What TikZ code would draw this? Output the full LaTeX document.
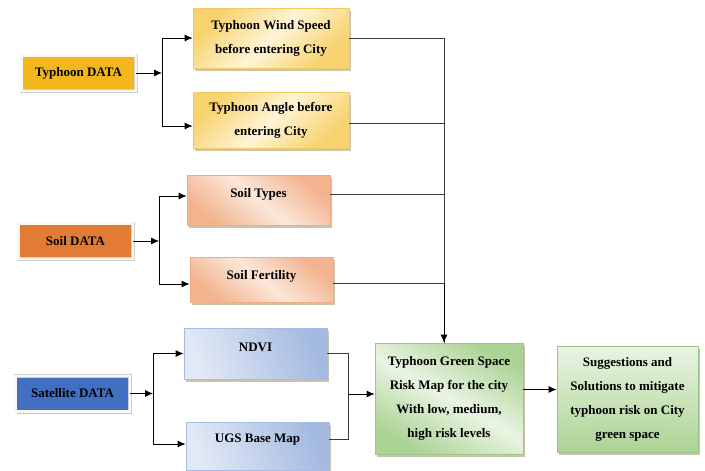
\documentclass[tikz,border=0pt]{standalone}
\usepackage{fontspec}
\setmainfont{Liberation Serif}
\usetikzlibrary{shadows,calc,arrows.meta}
\definecolor{tfill}{HTML}{F2B71F}
\definecolor{sfill}{HTML}{E27B33}
\definecolor{bfill}{HTML}{4170C2}
\definecolor{framegray}{HTML}{CFCFCF}
\definecolor{framefill}{HTML}{FAF8F0}
\definecolor{shadowc}{HTML}{BDB59A}
\definecolor{ybord}{HTML}{F2CA62}
\definecolor{ydark}{HTML}{F7D26E}
\definecolor{ylight}{HTML}{FEF4D6}
\definecolor{obord}{HTML}{EFAA86}
\definecolor{odark}{HTML}{F2B38E}
\definecolor{olight}{HTML}{FCE7DA}
\definecolor{bbord}{HTML}{A6BCE2}
\definecolor{bdark}{HTML}{A3B9E0}
\definecolor{blight}{HTML}{E2E9F6}
\definecolor{gbord}{HTML}{9CC689}
\definecolor{gdark}{HTML}{ABD394}
\definecolor{glight}{HTML}{EAF4E3}
\definecolor{lncol}{HTML}{3A3A3A}
\begin{document}
\begin{tikzpicture}[x=1pt,y=-1pt,
  txt/.style={font=\fontsize{13}{24}\selectfont\bfseries, align=center, text=black},
  shad/.style={drop shadow={shadow xshift=2pt,shadow yshift=-2.5pt,fill=shadowc,opacity=0.8}},
  databox/.style={txt, draw=framegray, line width=0.5pt, double=framefill, double distance=2.5pt,
    minimum width=114.5pt, minimum height=35.5pt, inner sep=0pt, shad},
  sbox/.style={txt, draw=#1, line width=0.8pt, inner sep=0pt, shad},
  tbox/.style={sbox=ybord, top color=ydark, bottom color=ydark, middle color=ylight, shading angle=45},
  obox/.style={sbox=obord, top color=odark, bottom color=odark, middle color=olight, shading angle=-40},
  bbox/.style={sbox=bbord, top color=bdark, bottom color=blight, shading angle=-70},
  gbox/.style={sbox=gbord, top color=gdark, bottom color=gdark, middle color=glight, shading angle=-30},
  gbox2/.style={sbox=gbord, top color=glight, bottom color=gdark, shading angle=0},
  arr/.style={-{Latex[length=8pt,width=7pt]}, line width=0.8pt, black},
  ln/.style={line width=0.8pt, lncol}
]
\useasboundingbox (0,0) rectangle (705,471);

% data sources
\node[databox, fill=tfill] (tdata) at (78.5,73) {Typhoon DATA};
\node[databox, fill=sfill] (sdata) at (75.5,241) {Soil DATA};
\node[databox, fill=bfill] (satdata) at (72.5,393.5) {Satellite DATA};

% typhoon children
\node[tbox, minimum width=156pt, minimum height=60pt] (wind) at (271,38) {Typhoon Wind Speed\\before entering City};
\node[tbox, minimum width=156pt, minimum height=56pt] (angle) at (271,120) {Typhoon Angle before\\entering City};

% soil children
\node[obox, minimum width=143pt, minimum height=50pt, label={[txt,yshift=6pt]center:Soil Types}] (types) at (258.5,200) {};
\node[obox, minimum width=143pt, minimum height=45pt, label={[txt,yshift=3.5pt]center:Soil Fertility}] (fert) at (261.5,279.5) {};

% satellite children
\node[bbox, minimum width=143pt, minimum height=51pt, label={[txt,yshift=6.5pt]center:NDVI}] (ndvi) at (255.5,353.5) {};
\node[bbox, minimum width=143pt, minimum height=48pt, label={[txt,yshift=6pt]center:UGS Base Map}] (ugs) at (257.5,446) {};

% results
\node[gbox, minimum width=148pt, minimum height=111pt] (risk) at (449,398.5) {Typhoon Green Space\\Risk Map for the city\\With low, medium,\\high risk levels};
\node[gbox2, minimum width=141pt, minimum height=106pt] (sugg) at (627.5,399) {Suggestions and\\Solutions to mitigate\\typhoon risk on City\\green space};

% junctions
\coordinate (tj) at (162,73);
\coordinate (sj) at (159,241);
\coordinate (bj) at (153,393.5);
\coordinate (vx) at ([xshift=-5pt]risk.north);
\coordinate (mj) at (348,394);

% branching arrows
\draw[arr] (tdata.east) -- (tj);
\draw[arr] (tj) |- (wind.west);
\draw[arr] (tj) |- ([yshift=-6pt]angle.west);
\draw[arr] (sdata.east) -- (sj);
\draw[arr] (sj) |- ([yshift=4pt]types.west);
\draw[arr] (sj) |- ([yshift=-4.5pt]fert.west);
\draw[arr] (satdata.east) -- (bj);
\draw[arr] (bj) |- (ndvi.west);
\draw[arr] (bj) |- ([yshift=2pt]ugs.west);

% collector to risk map
\draw[ln] (wind.east) -| (vx);
\draw[ln] ([yshift=-3pt]angle.east) -- ([yshift=-3pt]angle.east -| vx);
\draw[ln] ([yshift=6pt]types.east) -- ([yshift=6pt]types.east -| vx);
\draw[ln] ([yshift=-3.5pt]fert.east) -- ([yshift=-3.5pt]fert.east -| vx);
\draw[arr] ([yshift=-3.5pt]fert.east -| vx) -- (vx);

% satellite collector
\draw[ln] (ndvi.east) -| (mj);
\draw[ln] ([yshift=7pt]ugs.east) -| (mj);
\draw[arr] (mj) -- (mj -| risk.west);

% final arrow
\draw[arr] ([yshift=9pt]risk.east) -- ([yshift=9pt]risk.east -| sugg.west);
\end{tikzpicture}
\end{document}
